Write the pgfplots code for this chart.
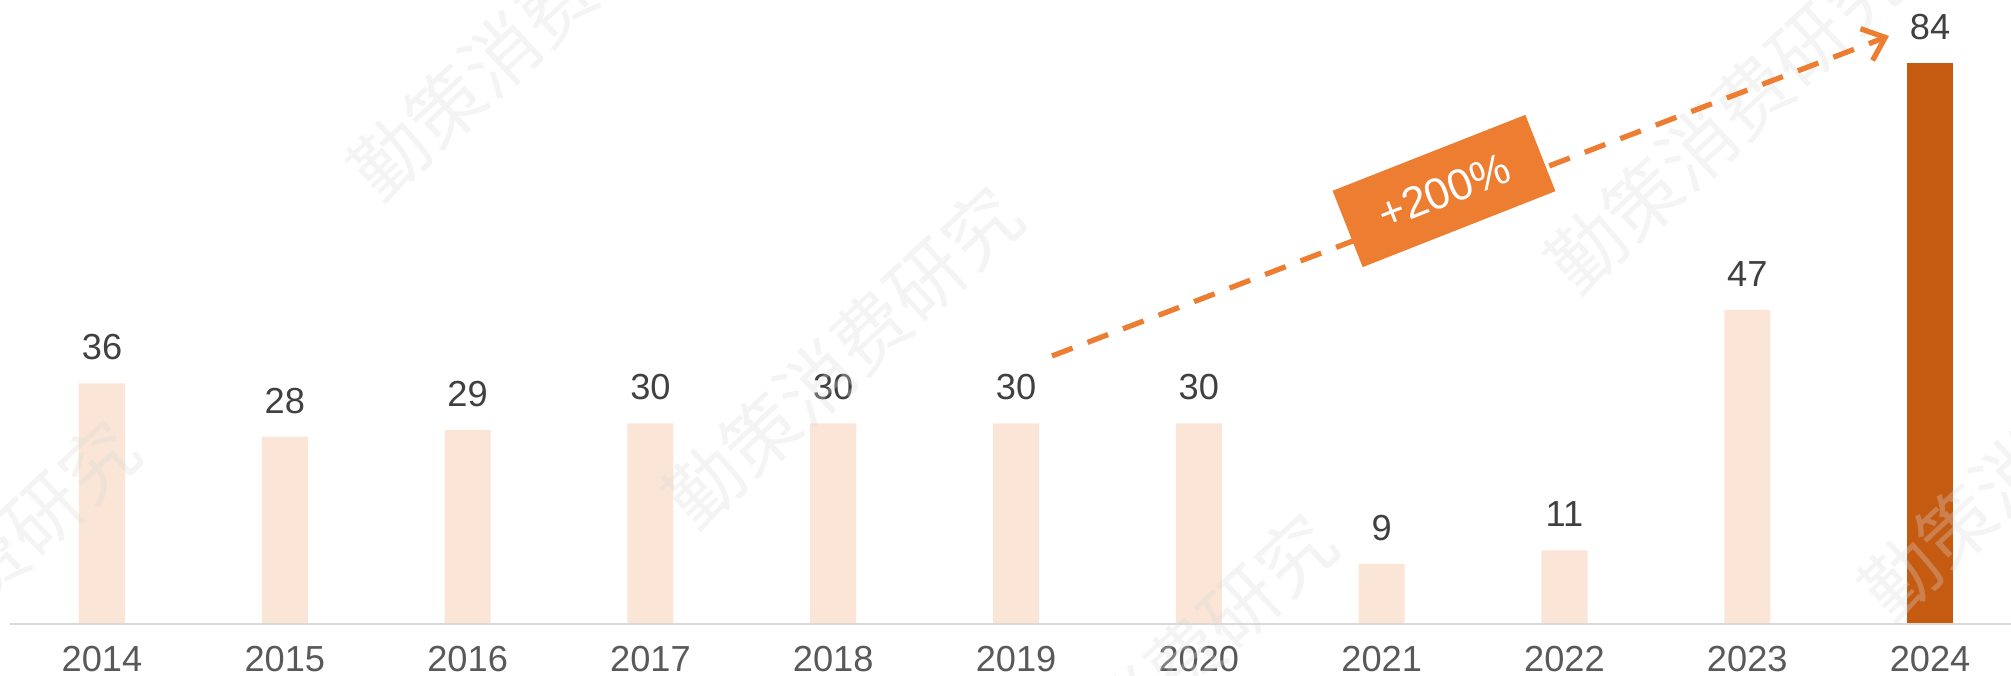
\documentclass[border=0pt]{standalone}
\usepackage{pgfplots}
\pgfplotsset{compat=1.18}
\usepackage{fontspec}
\setmainfont{Liberation Sans}
\newfontfamily\cjk{Noto Sans CJK SC}
\usetikzlibrary{arrows.meta}
\definecolor{lightbar}{HTML}{FBE5D6}
\definecolor{darkbar}{HTML}{C55A11}
\definecolor{accent}{HTML}{ED7D31}
\definecolor{ticklab}{HTML}{595959}
\definecolor{vallab}{HTML}{404040}
\definecolor{baseln}{HTML}{D9D9D9}
\begin{document}
\begin{tikzpicture}[x=0.01cm,y=0.01cm]
\useasboundingbox (0,-52) rectangle (2011,624);
\clip (0,-52) rectangle (2011,624);
\begin{axis}[
  at={(0,0)}, anchor=south west,
  scale only axis, width=20.11cm, height=6.24cm,
  xmin=-0.558, xmax=10.449, ymin=0, ymax=93.41,
  /pgf/number format/assume math mode=true,
  axis line style={draw=none}, tick style={draw=none},
  ytick=\empty,
  xtick={0,1,2,3,4,5,6,7,8,9,10},
  xticklabels={2014,2015,2016,2017,2018,2019,2020,2021,2022,2023,2024},
  xticklabel style={font=\fontsize{10.3}{12}\selectfont, text=ticklab, anchor=base, yshift=-0.475cm, inner sep=0pt},
  every node near coord/.append style={font=\fontsize{10.3}{12}\selectfont, text=vallab, anchor=base, yshift=0.235cm},
  clip=false,
]
\addplot[ybar, bar width=0.252, fill=lightbar, draw=none, nodes near coords] coordinates {
  (0,36) (1,28) (2,29) (3,30) (4,30) (5,30) (6,30) (7,9) (8,11) (9,47)
};
\addplot[ybar, bar width=0.252, fill=darkbar, draw=none, nodes near coords] coordinates {
  (10,84)
};
\end{axis}
\draw[baseln, line width=0.6pt] (10,0) -- (2011,0);
% watermarks
\foreach \p in {(528,595),(843,267),(-40,33),(1157,-60),(1725,502),(2039,175)}{
  \node[rotate=43, text=black!15, opacity=0.3, font=\cjk\fontsize{21.5}{22}\selectfont] at \p {勤策消费研究};
}
% arrow
\draw[accent, line width=1.5pt, dash pattern=on 2.2mm off 1.6mm, -{Straight Barb[length=2mm,width=3.4mm]}] (1052,268) -- (1889,588);
\node[fill=accent, rotate=21.5, minimum width=2.07cm, minimum height=0.82cm, inner sep=0pt, text=white, font=\fontsize{12.5}{14}\selectfont] at (1444,433) {+200\%};
\end{tikzpicture}
\end{document}
